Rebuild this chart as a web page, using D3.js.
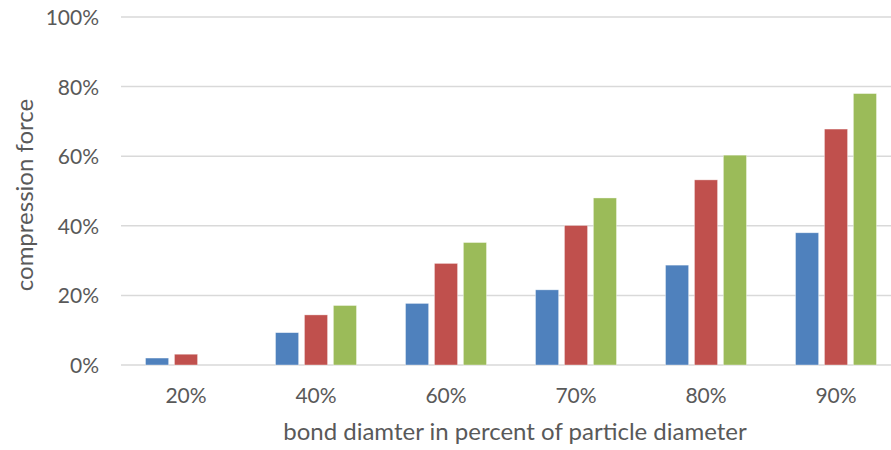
<!DOCTYPE html>
<html>
<head>
<meta charset="utf-8">
<script src="https://cdn.jsdelivr.net/npm/d3@7"></script>
<style>
  body { margin: 0; background: #fff; overflow: hidden; }
  svg text { font-family: Lato, "Open Sans", sans-serif; fill: #595959; }
</style>
</head>
<body>
<div id="chart"></div>
<script>
// chart data
const categories = ["20%", "40%", "60%", "70%", "80%", "90%"];
const seriesNames = ["s1", "s2", "s3"];
const blueValues = [2.0, 9.3, 17.7, 21.6, 28.7, 38.0];
const redValues = [3.1, 14.4, 29.2, 40.1, 53.2, 67.8];
const greenValues = [0, 17.1, 35.2, 48.0, 60.3, 78.0];
const yTicks = [0, 20, 40, 60, 80, 100];
const colors = ["#4F81BD", "#C0504D", "#9BBB59"];

const width = 891, height = 450;
// plot area runs a bit past the right edge of the window, like the original
const plot = {left: 121, right: 901, top: 17, bottom: 365};

const svg = d3.select("#chart").append("svg")
    .attr("width", width)
    .attr("height", height);

const x = d3.scaleBand()
    .domain(categories)
    .range([plot.left, plot.right]);

const xInner = d3.scaleBand()
    .domain(seriesNames)
    .range([0, 81])
    .paddingInner(0.2);

const y = d3.scaleLinear()
    .domain([0, 100])
    .range([plot.bottom, plot.top]);

// gridlines
svg.append("g")
    .selectAll("line")
    .data(yTicks)
    .join("line")
    .attr("x1", plot.left)
    .attr("x2", plot.right)
    .attr("y1", d => y(d))
    .attr("y2", d => y(d))
    .attr("stroke", "#d9d9d9")
    .attr("stroke-width", 1.5);

// y tick labels
svg.append("g")
    .selectAll("text")
    .data(yTicks)
    .join("text")
    .attr("x", 99)
    .attr("y", d => y(d) + 8)
    .attr("text-anchor", "end")
    .style("font-size", "21px")
    .text(d => d + "%");

// bars
const table = categories.map((c, i) => ({
    cat: c,
    vals: [blueValues[i], redValues[i], greenValues[i]]
}));

const groups = svg.append("g")
    .selectAll("g")
    .data(table)
    .join("g")
    .attr("transform", d => `translate(${x(d.cat) + (x.bandwidth() - 81) / 2},0)`);

groups.selectAll("rect")
    .data(d => d.vals.map((v, j) => ({name: seriesNames[j], v: v, j: j})).filter(e => e.v > 0))
    .join("rect")
    .attr("x", d => xInner(d.name))
    .attr("width", xInner.bandwidth())
    .attr("y", d => y(d.v))
    .attr("height", d => y(0) - y(d.v))
    .attr("fill", d => colors[d.j])
    .attr("stroke", "#fff")
    .attr("stroke-opacity", 0.5)
    .attr("stroke-width", 0.75);

// x tick labels
svg.append("g")
    .selectAll("text")
    .data(categories)
    .join("text")
    .attr("x", d => x(d) + x.bandwidth() / 2)
    .attr("y", 403)
    .attr("text-anchor", "middle")
    .style("font-size", "21px")
    .text(d => d);

// axis titles
svg.append("text")
    .attr("x", 515)
    .attr("y", 440)
    .attr("text-anchor", "middle")
    .style("font-size", "24px")
    .text("bond diamter in percent of particle diameter");

svg.append("text")
    .attr("transform", `translate(33,195) rotate(-90)`)
    .attr("text-anchor", "middle")
    .style("font-size", "24px")
    .text("compression force");
</script>
</body>
</html>
